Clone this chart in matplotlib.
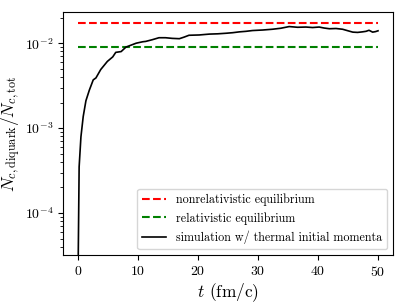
import matplotlib
matplotlib.use("Agg")
import matplotlib.pyplot as plt
import numpy as np

plt.rcParams['font.family'] = 'serif'
plt.rcParams['font.serif'] = ['cmr10']
plt.rcParams['mathtext.fontset'] = 'cm'
plt.rcParams['axes.unicode_minus'] = False
plt.rcParams['axes.formatter.use_mathtext'] = True

# data
t_sim = [0.0, 0.05, 0.2, 0.5, 0.88, 1.33, 1.9, 2.55, 3.0, 3.8, 4.9, 5.8, 6.3, 7.2, 8.0,
         9.7, 10.8, 11.3, 12.4, 13.5, 14.6, 15.7, 16.9, 17.7, 18.5, 20.2, 21.9, 23.3,
         24.7, 25.8, 26.9, 28.0, 29.1, 30.8, 32.4, 33.8, 35.2, 36.6, 38.0, 39.1, 40.2,
         41.0, 41.9, 43.0, 44.1, 45.0, 45.8, 46.6, 47.4, 48.0, 48.5, 49.1, 49.6, 50.0]
n_sim = [1e-6, 3e-5, 3.5e-4, 7.9e-4, 1.37e-3, 2.1e-3, 2.8e-3, 3.7e-3, 3.9e-3, 4.9e-3, 6.1e-3,
         6.9e-3, 7.8e-3, 7.97e-3, 9.0e-3, 0.0100, 0.0104, 0.0105, 0.0110, 0.0116, 0.0116,
         0.0114, 0.0113, 0.0118, 0.0124, 0.0125, 0.0128, 0.0129, 0.0131, 0.0133, 0.0136,
         0.0138, 0.0141, 0.0143, 0.0146, 0.0150, 0.0157, 0.0154, 0.0155, 0.0153, 0.0155,
         0.0151, 0.0148, 0.0149, 0.0146, 0.0140, 0.0135, 0.0134, 0.0136, 0.0138, 0.0142,
         0.0135, 0.0137, 0.0140]
nonrel_eq = 0.0172
rel_eq = 0.0091
t_range = [0, 50]

fig = plt.figure(figsize=(4.06, 3.04), dpi=100)
ax = fig.add_axes([0.155, 0.161, 0.813, 0.7995])

ax.plot(t_range, [nonrel_eq, nonrel_eq], color='red', ls='--', lw=1.5,
        label='nonrelativistic equilibrium')
ax.plot(t_range, [rel_eq, rel_eq], color='green', ls='--', lw=1.5,
        label='relativistic equilibrium')
ax.plot(t_sim, n_sim, color='black', lw=1.2,
        label='simulation w/ thermal initial momenta')

ax.set_yscale('log')
ax.set_ylim(3.2e-5, 0.0233)
ax.set_xlim(-2.5, 52.5)
ax.set_xticks([0, 10, 20, 30, 40, 50])
ax.tick_params(labelsize=10)

ax.set_xlabel(r'$t$ (fm/c)', fontsize=12.5, labelpad=2)
ax.set_ylabel(r'$N_{c,\mathrm{diquark}}/N_{c,\mathrm{tot}}$', fontsize=12.5)
ax.yaxis.set_label_coords(-0.12, 0.5)

ax.legend(loc='lower right', fontsize=8.7, frameon=True)

fig.savefig('out.png', dpi=100)
